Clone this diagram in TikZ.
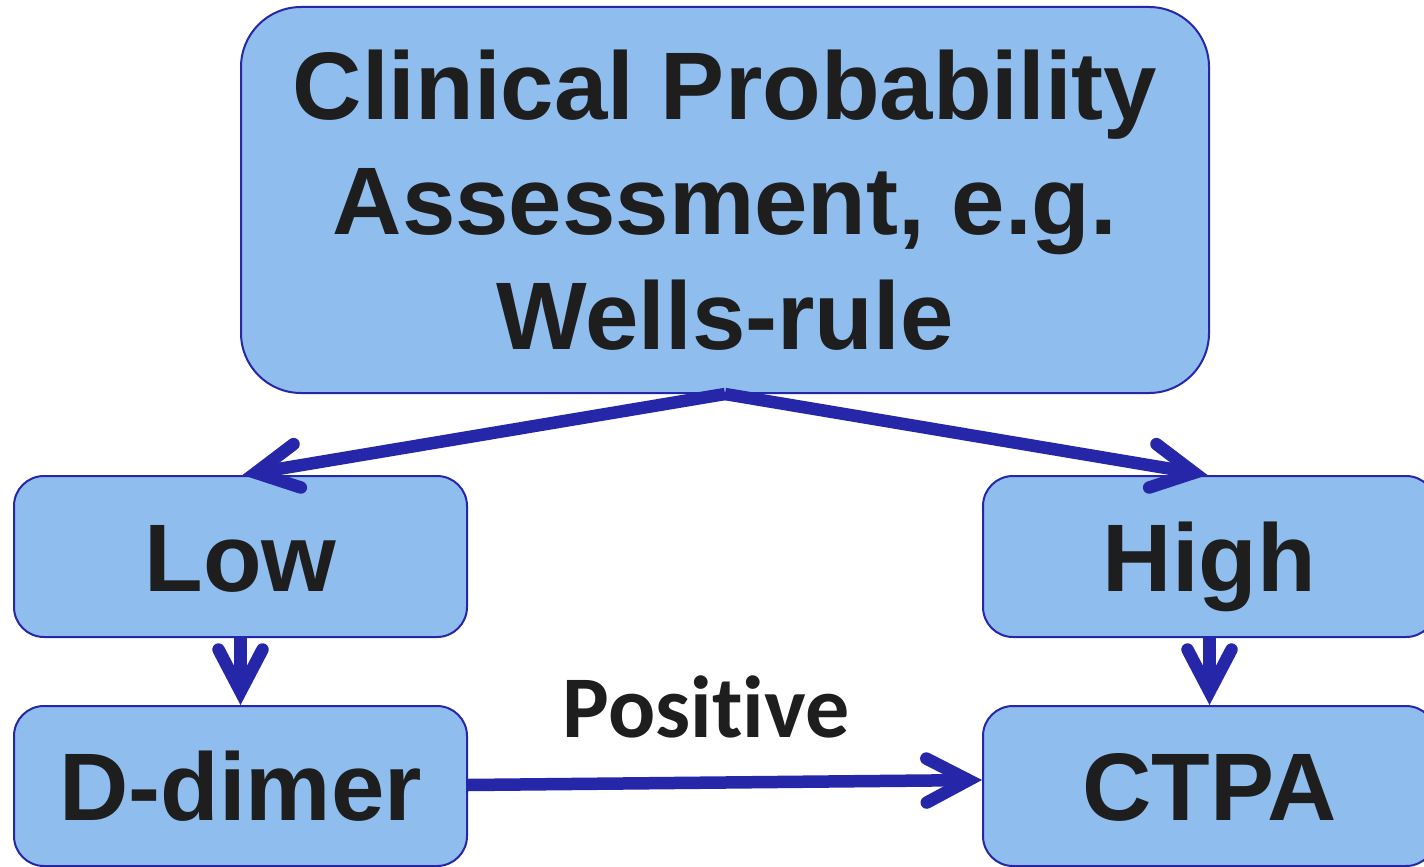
\documentclass[tikz,border=0pt]{standalone}
\usepackage{fontspec}
\setmainfont{Liberation Sans}
\newfontfamily\calibrifont[Ligatures=NoCommon]{Carlito}
\usetikzlibrary{arrows.meta}
\definecolor{boxfill}{RGB}{143,190,238}
\definecolor{boxline}{RGB}{38,38,168}
\definecolor{arrowblue}{RGB}{38,38,168}
\definecolor{inktext}{RGB}{30,30,30}
\tikzset{
  flowbox/.style={draw=boxline, line width=2pt, fill=boxfill, rounded corners=30pt,
    text=inktext, font=\fontsize{96}{115}\selectfont\bfseries, inner sep=0pt,
    text height=69pt, text depth=0pt},
  flowarrow/.style={draw=arrowblue, line width=12.5pt,
    -{Straight Barb[length=42pt, width=44pt, line cap=round, line join=miter]}},
  edgelabel/.style={text=inktext, font=\calibrifont\fontsize{88}{106}\selectfont\bfseries, inner sep=0pt}
}
\begin{document}
\begin{tikzpicture}[x=1pt, y=-1pt]
  \useasboundingbox (0,0) rectangle (1424,867);
  \fill[white] (0,0) rectangle (1424,867);

  % boxes
  \node[flowbox, rounded corners=60pt, minimum width=968pt, minimum height=386pt,
        align=center, text height=, text depth=] (assess) at (725,200)
        {Clinical Probability\\Assessment, e.g.\\Wells-rule};
  \node[flowbox, minimum width=453pt, minimum height=161pt] (low)  at (240.5,556.5) {Low};
  \node[flowbox, minimum width=453pt, minimum height=161pt] (high) at (1209.5,556.5) {High};
  \node[flowbox, minimum width=453pt, minimum height=160pt] (ddimer) at (240.5,786) {D-dimer};
  \node[flowbox, minimum width=453pt, minimum height=160pt] (ctpa) at (1209.5,786) {CTPA};

  % connectors
  \draw[flowarrow] (assess.south) -- ([xshift=2pt]low.north);
  \draw[flowarrow] (assess.south) -- ([xshift=-2pt]high.north);
  \draw[flowarrow] (low.south) -- (ddimer.north);
  \draw[flowarrow] (high.south) -- (ctpa.north);
  \draw[flowarrow] ([yshift=1pt]ddimer.east) -- ([yshift=6pt]ctpa.west);

  \node[edgelabel, anchor=base] (positive) at (706,737) {Posit\kern0pt ive};
\end{tikzpicture}
\end{document}
